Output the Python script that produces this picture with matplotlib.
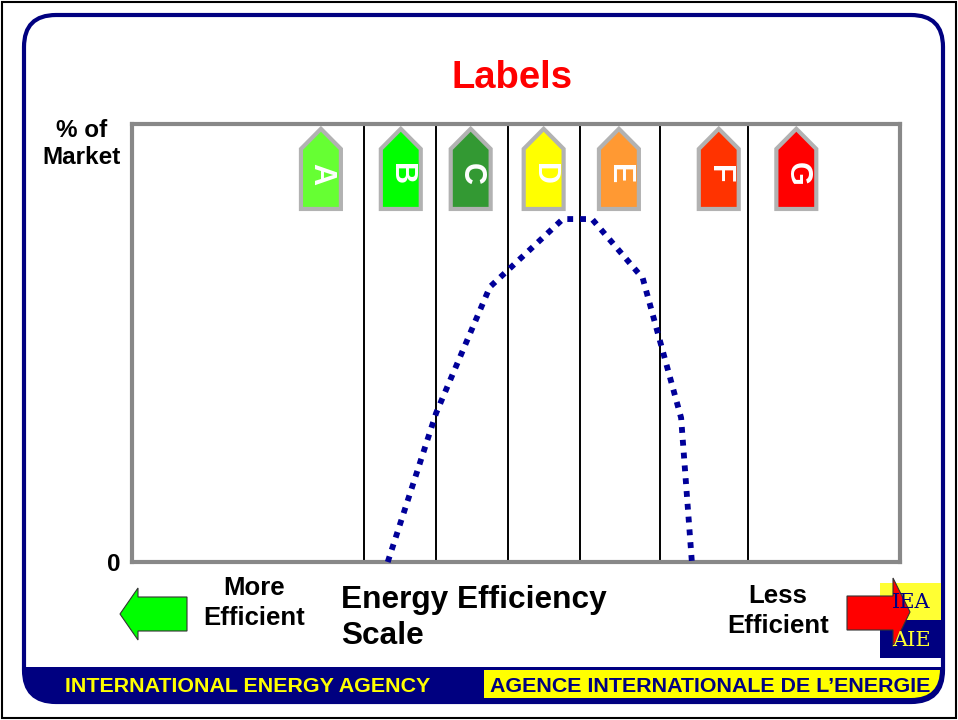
import matplotlib
matplotlib.use("Agg")
import matplotlib.pyplot as plt
from matplotlib.patches import FancyBboxPatch, Rectangle, Polygon

plt.rcParams['font.family'] = ['Liberation Sans', 'DejaVu Sans']

# ---------------- data ----------------
title = "Labels"
class_letters = ["A", "B", "C", "D", "E", "F", "G"]
class_centers = [24.6, 35.0, 44.1, 53.6, 63.4, 76.4, 86.5]
class_colors = ["#66FF33", "#00FF00", "#339933", "#FFFF00", "#FF9933", "#FF3300", "#FF0000"]
class_bounds = [30.2, 39.6, 49.0, 58.3, 68.75, 80.2]
curve_x = [33.3, 39.6, 46.6, 56.1, 59.9, 66.5, 71.5, 72.9]
curve_y = [0.0, 34.0, 62.8, 78.3, 78.3, 64.8, 32.9, 0.0]
y_tick_vals = [0]
y_tick_labels = ["0"]
y_label = "% of\nMarket"
x_label = "Energy Efficiency\nScale"
left_label = "More\nEfficient"
right_label = "Less\nEfficient"
footer_left = "INTERNATIONAL ENERGY AGENCY"
footer_right = "AGENCE INTERNATIONALE DE L\u2019ENERGIE"

NAVY = "#000080"
W, H = 958, 720
fig = plt.figure(figsize=(W / 100, H / 100), dpi=100)

# background / slide decoration axes in pixel coordinates
bg = fig.add_axes([0, 0, 1, 1])
bg.set_xlim(0, W)
bg.set_ylim(H, 0)
bg.axis("off")

bg.add_patch(Rectangle((2, 2), W - 4, H - 4, fc="white", ec="black", lw=1.5))
frame = FancyBboxPatch((24, 15), 919, 687, boxstyle="round,pad=0,rounding_size=32",
                       fc="white", ec="none", lw=0)
bg.add_patch(frame)
foot = Rectangle((20, 667), 930, 45, fc=NAVY, ec="none")
bg.add_patch(foot)
foot.set_clip_path(frame)
inner = FancyBboxPatch((27, 18), 913, 680, boxstyle="round,pad=0,rounding_size=29",
                       fc="none", ec="none")
bg.add_patch(inner)
yel = Rectangle((484, 670), 470, 40, fc="#FFFF00", ec="none")
bg.add_patch(yel)
yel.set_clip_path(inner)
bg.add_patch(FancyBboxPatch((24, 15), 919, 687, boxstyle="round,pad=0,rounding_size=32",
                            fc="none", ec=NAVY, lw=3))

bg.text(248, 686, footer_left, color="#FFFF00", fontsize=15.4, fontweight="bold",
        ha="center", va="center")
bg.text(710, 686, footer_right, color=NAVY, fontsize=15.4, fontweight="bold",
        ha="center", va="center")

# title and side texts
bg.text(512, 78, title, color="#FF0000", fontsize=27.5, fontweight="bold",
        ha="center", va="center")
bg.text(121, 144, y_label, fontsize=17.5, fontweight="bold", ha="right", va="center",
        multialignment="center", linespacing=1.2)
bg.text(254, 603, left_label, fontsize=18.5, fontweight="bold", ha="center", va="center",
        linespacing=1.33)
bg.text(778, 611, right_label, fontsize=18.5, fontweight="bold", ha="center", va="center",
        linespacing=1.33)
bg.text(341, 618, x_label, fontsize=22.8, fontweight="bold", ha="left", va="center",
        linespacing=1.3)

# green arrow (left)
bg.add_patch(Polygon([(120, 614), (138, 588), (138, 597), (187, 597), (187, 631),
                      (138, 631), (138, 640)], closed=True, fc="#00FF00", ec="#333333", lw=0.8))

# IEA logo
bg.add_patch(Rectangle((880, 583), 61, 37, fc="#FFFF33", ec="none"))
bg.add_patch(Rectangle((880, 620), 61, 38, fc=NAVY, ec="none"))
bg.text(911, 602, "IEA", color=NAVY, fontsize=15, ha="center", va="center",
        family=["DejaVu Serif"])
bg.text(911, 640, "AIE", color="#FFFF33", fontsize=15, ha="center", va="center",
        family=["DejaVu Serif"])

# red arrow (right)
bg.add_patch(Polygon([(847, 596), (893, 596), (893, 578), (910, 612), (893, 647),
                      (893, 630), (847, 630)], closed=True, fc="#FF0000", ec="#333333", lw=0.8))

# ---------------- main chart ----------------
ax = fig.add_axes([132 / W, 1 - 562 / H, 768 / W, 438 / H])
ax.set_facecolor("none")
ax.set_xlim(0, 100)
ax.set_ylim(0, 100)
for s in ax.spines.values():
    s.set_color("#888888")
    s.set_linewidth(3)
ax.set_xticks([])
ax.set_yticks(y_tick_vals)
ax.set_yticklabels(y_tick_labels, fontsize=17.5, fontweight="bold")
ax.tick_params(axis="y", length=0, pad=8)

ax.vlines(class_bounds, 0, 100, color="black", lw=1.4, zorder=2)

ax.plot(curve_x, curve_y, color="#000099", lw=4.2, linestyle=(0, (1, 1.2)),
        dash_capstyle="butt", solid_joinstyle="miter", clip_on=False, zorder=3)

hw, tip, shoulder, bottom = 2.6, 98.9, 94.3, 80.6
for letter, cx, col in zip(class_letters, class_centers, class_colors):
    ax.add_patch(Polygon([(cx - hw, bottom), (cx - hw, shoulder), (cx, tip),
                          (cx + hw, shoulder), (cx + hw, bottom)], closed=True,
                         fc=col, ec="#B2B2B2", lw=3, joinstyle="miter", zorder=4))
    ax.text(cx, 88.6, letter, color="white", fontsize=22, fontweight="bold",
            rotation=270, ha="center", va="center", zorder=5)

fig.savefig("out.png", dpi=100)
